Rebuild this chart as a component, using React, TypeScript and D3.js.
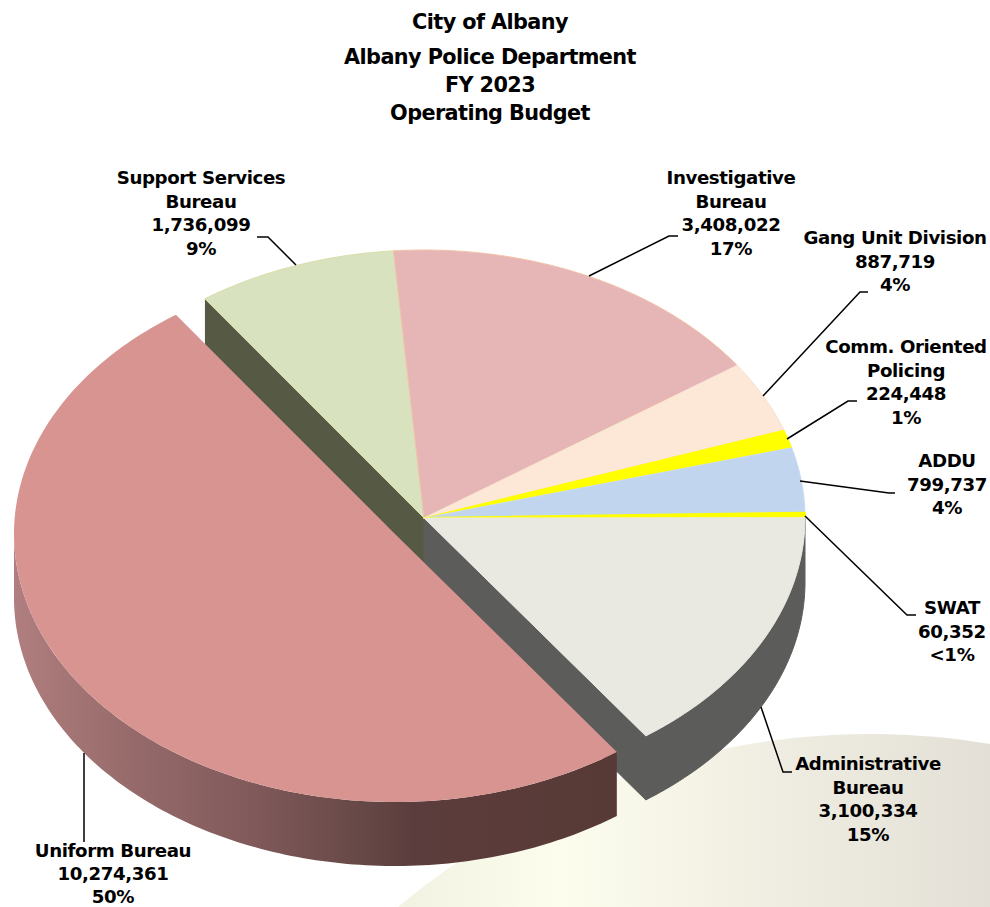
import React from "react";
import * as d3 from "d3";

const names = ["Support Services Bureau", "Investigative Bureau", "Gang Unit Division", "Comm. Oriented Policing", "ADDU", "SWAT", "Administrative Bureau", "Uniform Bureau"];
const values = [1736099, 3408022, 887719, 224448, 799737, 60352, 3100334, 10274361];
const percents = ["9%", "17%", "4%", "1%", "4%", "<1%", "15%", "50%"];
const topColors = ["#d8e2bf", "#e6b6b6", "#fde8d8", "#ffff00", "#c1d5ef", "#ffff00", "#e9e9e1", "#d79490"];
const edgeColors = ["#d8dfa8", "#f3c3a8", "#f7e2d0", "#ffff00", "#c9daf0", "#ffff00", "#e9e9e1", "#d79490"];
const titleLines = ["City of Albany", "Albany Police Department", "FY 2023", "Operating Budget"];
const titleBaselines = [29, 64, 92, 120];

const labelLines = [
  ["Support Services", "Bureau", "1,736,099", "9%"],
  ["Investigative", "Bureau", "3,408,022", "17%"],
  ["Gang Unit Division", "887,719", "4%"],
  ["Comm. Oriented", "Policing", "224,448", "1%"],
  ["ADDU", "799,737", "4%"],
  ["SWAT", "60,352", "<1%"],
  ["Administrative", "Bureau", "3,100,334", "15%"],
  ["Uniform Bureau", "10,274,361", "50%"],
];
const labelAnchors: [number, number][] = [[201, 184], [731, 184], [895, 244], [906, 353], [947, 467], [952, 614], [868, 770], [113, 856.5]];
const labelGaps = [23.6, 23.6, 23.6, 23.6, 23.6, 23.6, 23.6, 23];
const leaders: [number, number][][] = [
  [[257, 237], [268, 237], [296, 265]],
  [[678, 236], [669, 236], [589, 276]],
  [[868, 292], [860, 292], [763, 396]],
  [[857, 401], [848, 401], [787, 439]],
  [[895, 493], [889, 493], [800, 481]],
  [[916, 615], [907, 615], [805, 516]],
  [[792, 772], [783, 772], [761, 707]],
  [[84, 753], [84, 842]],
];

const RX = 381, RY = 268, DEPTH = 64;
const CX = 424, CY = 518;
const UX = 395, UY = 534;
const START = (-35.1 * Math.PI) / 180;
const FONT = "'DejaVu Sans', Verdana, sans-serif";

const pieGen = d3.pie<number>().sort(null).startAngle(START).endAngle(START + Math.PI * 2);
const arcs = pieGen(values);
const line = d3.line<[number, number]>();

const pt = (cx: number, cy: number, a: number, dy = 0): [number, number] => [cx + RX * Math.sin(a), cy - RY * Math.cos(a) + dy];
const sample = (a0: number, a1: number) => {
  const n = Math.max(2, Math.ceil(Math.abs(a1 - a0) * 60));
  return d3.range(n + 1).map((i) => a0 + ((a1 - a0) * i) / n);
};
const topPath = (cx: number, cy: number, a0: number, a1: number) =>
  line([[cx, cy], ...sample(a0, a1).map((a) => pt(cx, cy, a))]) + "Z";
const wallPath = (cx: number, cy: number, a0: number, a1: number) =>
  line([...sample(a0, a1).map((a) => pt(cx, cy, a)), ...sample(a1, a0).map((a) => pt(cx, cy, a, DEPTH))]) + "Z";
const edgeWall = (cx: number, cy: number, a: number) => {
  const p = pt(cx, cy, a);
  return line([[cx, cy], p, [p[0], p[1] + DEPTH], [cx, cy + DEPTH]]) + "Z";
};

export default function App() {
  const support = arcs[0];
  const admin = arcs[6];
  const uniform = arcs[7];
  return (
    <svg width={990} height={907} viewBox="0 0 990 907" style={{ position: "absolute", left: 0, top: 0, display: "block" }}>
      <defs>
        <linearGradient id="bg" gradientUnits="userSpaceOnUse" x1={395} x2={990} y1={0} y2={0}>
          <stop offset="0" stopColor="#f2f2e2" />
          <stop offset="0.28" stopColor="#fdfdee" />
          <stop offset="0.55" stopColor="#f2f1e4" />
          <stop offset="0.8" stopColor="#eae7dd" />
          <stop offset="1" stopColor="#e3dfd6" />
        </linearGradient>
        <linearGradient id="uwall" gradientUnits="userSpaceOnUse" x1={14} x2={617} y1={0} y2={0}>
          <stop offset="0" stopColor="#b07e7e" />
          <stop offset="0.2" stopColor="#966a6a" />
          <stop offset="0.4" stopColor="#80595a" />
          <stop offset="0.6" stopColor="#634644" />
          <stop offset="0.66" stopColor="#5c3d3d" />
          <stop offset="1" stopColor="#573935" />
        </linearGradient>
      </defs>
      <ellipse cx={870} cy={1534} rx={760} ry={800} fill="url(#bg)" />

      <path d={edgeWall(CX, CY, support.startAngle)} fill="#565a44" />
      <path d={edgeWall(CX, CY, admin.endAngle)} fill="#5c5c5a" stroke="#5c5c5a" strokeWidth={1} />
      <path d={wallPath(CX, CY, admin.startAngle, admin.endAngle)} fill="#5c5c5a" stroke="#5c5c5a" strokeWidth={1} />

      {arcs.slice(0, 7).map((d, i) => (
        <path key={names[i]} d={topPath(CX, CY, d.startAngle, d.endAngle)} fill={topColors[i]} stroke={edgeColors[i]} strokeWidth={i === 5 ? 2 : 1} strokeLinejoin="round" />
      ))}

      <path d={wallPath(UX, UY, uniform.startAngle, Math.PI * 1.5)} fill="url(#uwall)" />
      <path d={topPath(UX, UY, uniform.startAngle, uniform.endAngle)} fill={topColors[7]} />

      {leaders.map((pts, i) => (
        <path key={i} d={line(pts) as string} fill="none" stroke="#000" strokeWidth={1.5} />
      ))}

      <g fontFamily={FONT} fontWeight={700} fill="#000" textAnchor="middle">
        {titleLines.map((t, i) => (
          <text key={t} x={490} y={titleBaselines[i]} fontSize={20.8} letterSpacing={-0.6}>{t}</text>
        ))}
        {labelLines.map((lines, i) => (
          <text key={names[i]} fontSize={18.2} letterSpacing={-0.4} aria-label={`${names[i]} ${values[i]} ${percents[i]}`}>
            {lines.map((l, j) => (
              <tspan key={j} x={labelAnchors[i][0]} y={labelAnchors[i][1] + j * labelGaps[i]}>{l}</tspan>
            ))}
          </text>
        ))}
      </g>
    </svg>
  );
}
